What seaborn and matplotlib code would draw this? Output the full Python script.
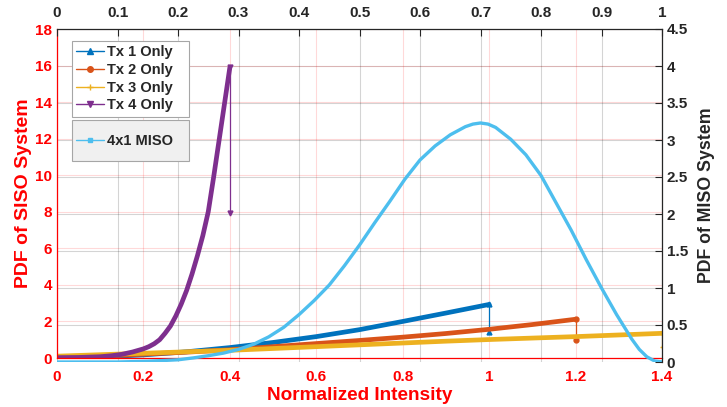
import matplotlib
matplotlib.use("Agg")
import matplotlib.pyplot as plt
from matplotlib.lines import Line2D
from matplotlib.patches import Rectangle
import seaborn as sns

# SISO curves, bottom x axis (0..1.4) / left y axis (0..18)
tx1_x = [0, 0.1, 0.2, 0.3, 0.4, 0.5, 0.6, 0.7, 0.8, 0.9, 1.0]
tx1_y = [0.02, 0.06, 0.17, 0.34, 0.57, 0.85, 1.17, 1.55, 2.0, 2.46, 2.93]
tx1_drop = 1.44

tx2_x = [0, 0.1, 0.2, 0.3, 0.4, 0.5, 0.6, 0.7, 0.8, 0.9, 1.0, 1.1, 1.2]
tx2_y = [0.03, 0.1, 0.21, 0.32, 0.45, 0.62, 0.79, 0.96, 1.14, 1.34, 1.57, 1.83, 2.12]
tx2_drop = 0.98

tx3_x = [0, 0.1, 0.2, 0.3, 0.4, 0.5, 0.6, 0.7, 0.8, 0.9, 1.0, 1.1, 1.2, 1.3, 1.4]
tx3_y = [0.1, 0.18, 0.26, 0.34, 0.42, 0.52, 0.62, 0.72, 0.82, 0.92, 1.01, 1.09, 1.17, 1.26, 1.35]
tx3_drop = 0.62

tx4_x = [0, 0.05, 0.1, 0.125, 0.15, 0.175, 0.2, 0.2125, 0.225, 0.2375, 0.25, 0.2625,
         0.275, 0.2875, 0.3, 0.3125, 0.325, 0.3375, 0.35, 0.3625, 0.375, 0.3875, 0.4]
tx4_y = [0.02, 0.03, 0.07, 0.12, 0.2, 0.33, 0.5, 0.62, 0.78, 1.0, 1.35, 1.75,
         2.3, 2.95, 3.7, 4.6, 5.6, 6.7, 8.0, 9.9, 11.9, 13.9, 15.9]
tx4_drop = 7.95

# MISO curve, top x axis (0..1) / right y axis (0..4.5)
miso_x = [0, 0.025, 0.05, 0.075, 0.1, 0.125, 0.15, 0.175, 0.2, 0.225, 0.25, 0.275,
          0.3, 0.325, 0.35, 0.375, 0.4, 0.425, 0.45, 0.475, 0.5, 0.525, 0.55, 0.575,
          0.6, 0.625, 0.65, 0.675, 0.6875, 0.7, 0.7125, 0.725, 0.75, 0.775, 0.8,
          0.825, 0.85, 0.875, 0.9, 0.925, 0.95, 0.9625, 0.975, 0.9875, 1.0]
miso_y = [0, 0, 0, 0, 0, 0.005, 0.01, 0.02, 0.03, 0.055, 0.085, 0.12,
          0.17, 0.24, 0.34, 0.47, 0.64, 0.83, 1.04, 1.3, 1.58, 1.88, 2.17, 2.47,
          2.73, 2.92, 3.07, 3.18, 3.215, 3.23, 3.215, 3.17, 3.01, 2.8, 2.52,
          2.15, 1.78, 1.38, 1.0, 0.64, 0.31, 0.17, 0.07, 0.015, 0.0]

bottom_ticks = [0, 0.2, 0.4, 0.6, 0.8, 1, 1.2, 1.4]
bottom_labels = ["0", "0.2", "0.4", "0.6", "0.8", "1", "1.2", "1.4"]
left_ticks = [0, 2, 4, 6, 8, 10, 12, 14, 16, 18]
top_ticks = [0, 0.1, 0.2, 0.3, 0.4, 0.5, 0.6, 0.7, 0.8, 0.9, 1]
top_labels = ["0", "0.1", "0.2", "0.3", "0.4", "0.5", "0.6", "0.7", "0.8", "0.9", "1"]
right_ticks = [0, 0.5, 1, 1.5, 2, 2.5, 3, 3.5, 4, 4.5]
right_labels = ["0", "0.5", "1", "1.5", "2", "2.5", "3", "3.5", "4", "4.5"]

siso_labels = ["Tx 1 Only", "Tx 2 Only", "Tx 3 Only", "Tx 4 Only"]
siso_colors = ["#0072BD", "#D95319", "#EDB120", "#7E2F8E"]
siso_markers = ["^", "o", "+", "v"]
miso_color = "#4DBEEE"
RED = "#FF0000"
DARK = "#262626"

sns.set_theme(style="white")
plt.rcParams["font.family"] = ["Liberation Sans", "DejaVu Sans"]
plt.rcParams["font.weight"] = "bold"

W, H = 727, 407
fig = plt.figure(figsize=(W / 100, H / 100), dpi=100)
fig.patch.set_facecolor("white")


def rect(x0, x1, ytop, ybot):
    return [x0 / W, 1 - ybot / H, (x1 - x0) / W, (ybot - ytop) / H]


# gray grid belonging to the MISO axes, kept underneath everything
axg = fig.add_axes(rect(57, 662, 29, 362))
ax = fig.add_axes(rect(57, 662, 29, 358))
ax2 = fig.add_axes(rect(57, 662, 29, 362))

axg.set_xlim(0, 1)
axg.set_ylim(0, 4.5)
axg.set_xticks(top_ticks)
axg.set_yticks(right_ticks)
axg.tick_params(length=0, labelbottom=False, labelleft=False)
axg.grid(True, color="black", alpha=0.17, lw=0.8)
for s in axg.spines.values():
    s.set_visible(False)

# ---- SISO axes ----
ax.patch.set_alpha(0)
series = [(tx1_x, tx1_y, tx1_drop), (tx2_x, tx2_y, tx2_drop),
          (tx3_x, tx3_y, tx3_drop), (tx4_x, tx4_y, tx4_drop)]
for (xs, ys, drop), c, m in zip(series, siso_colors, siso_markers):
    sns.lineplot(x=xs, y=ys, ax=ax, color=c, lw=3.4, sort=False, estimator=None)
    ax.plot([xs[-1], xs[-1]], [ys[-1], drop], color=c, lw=0.9)
    ax.plot([xs[-1], xs[-1]], [ys[-1], drop], ls="none", marker=m, ms=3.5,
            color=c, mew=1)

ax.set_xlim(0, 1.4)
ax.set_ylim(0, 18)
ax.set_xticks(bottom_ticks)
ax.set_xticklabels(bottom_labels)
ax.set_yticks(left_ticks)
ax.grid(True, color=RED, alpha=0.15, lw=0.8)
ax.tick_params(axis="both", direction="in", length=5, width=0.8, colors=RED,
               labelsize=11)
ax.tick_params(axis="x", pad=8.5)
ax.tick_params(axis="y", pad=3.5)
ax.spines["top"].set_visible(False)
ax.spines["right"].set_visible(False)
for s in ("left", "bottom"):
    ax.spines[s].set_color(RED)
    ax.spines[s].set_linewidth(0.9)
ax.set_xlabel("Normalized Intensity", color=RED, fontsize=13.7,
              fontweight="bold", labelpad=2)
ax.set_ylabel("PDF of SISO System", color=RED, fontsize=14, fontweight="bold",
              labelpad=2)

handles = [Line2D([], [], color=c, lw=1, marker=m, ms=4)
           for c, m in zip(siso_colors, siso_markers)]
leg1 = ax.legend(handles, siso_labels, loc="upper left",
                 bbox_to_anchor=(15 / 605, 0, 117 / 605, (358 - 41) / 329),
                 mode="expand", borderaxespad=0, fancybox=False, framealpha=1,
                 edgecolor="#A6A6A6", fontsize=10.5, handlelength=1.9,
                 handletextpad=0.2, labelspacing=0.25, borderpad=0.3)
leg1.get_frame().set_linewidth(0.8)

# ---- MISO axes ----
ax2.patch.set_alpha(0)
sns.lineplot(x=miso_x, y=miso_y, ax=ax2, color=miso_color, lw=2.4, sort=False,
             estimator=None)
ax2.set_xlim(0, 1)
ax2.set_ylim(0, 4.5)
ax2.set_xticks(top_ticks)
ax2.set_xticklabels(top_labels)
ax2.set_yticks(right_ticks)
ax2.set_yticklabels(right_labels)
ax2.xaxis.tick_top()
ax2.yaxis.tick_right()
ax2.yaxis.set_label_position("right")
ax2.tick_params(axis="both", direction="in", length=5, width=0.8,
                colors=DARK, labelsize=11)
ax2.tick_params(axis="x", pad=6.5)
ax2.tick_params(axis="y", pad=3.5)
ax2.spines["bottom"].set_visible(False)
ax2.spines["left"].set_visible(False)
for s in ("top", "right"):
    ax2.spines[s].set_color(DARK)
    ax2.spines[s].set_linewidth(0.9)
ax2.set_ylabel("PDF of MISO System", color=DARK, fontsize=12.8,
               fontweight="bold", labelpad=7)

# MISO legend: gray box drawn separately so it can be taller than its one row
ax2.add_patch(Rectangle((15 / 605, (362 - 161) / 333), 117 / 605, 41 / 333,
                        transform=ax2.transAxes, facecolor="#F0F0F0",
                        edgecolor="#A6A6A6", lw=0.8, zorder=4))
h2 = [Line2D([], [], color=miso_color, lw=1, marker="s", ms=3)]
leg2 = ax2.legend(h2, ["4x1 MISO"], loc="center left",
                  bbox_to_anchor=(15 / 605, (362 - 141) / 333),
                  borderaxespad=0, frameon=False, fontsize=10.5,
                  handlelength=1.9, handletextpad=0.2, borderpad=0.3)
leg2.set_zorder(5)

fig.savefig("out.png", dpi=100, facecolor="white")
